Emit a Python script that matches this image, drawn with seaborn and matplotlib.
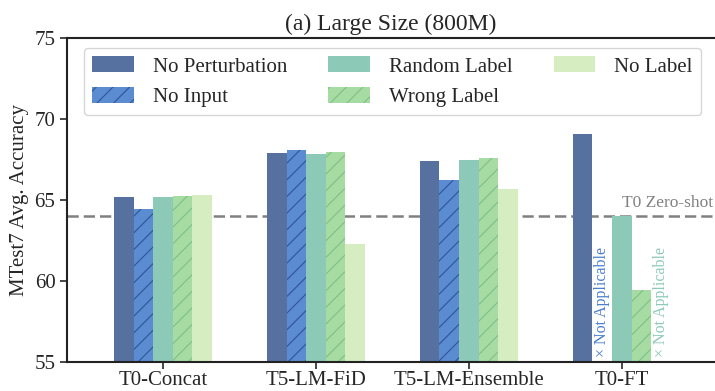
import numpy as np
import pandas as pd
import matplotlib
matplotlib.use("Agg")
import matplotlib.pyplot as plt
from matplotlib.patches import Patch
import seaborn as sns

models = ["T0-Concat", "T5-LM-FiD", "T5-LM-Ensemble", "T0-FT"]
conditions = ["No Perturbation", "No Input", "Random Label", "Wrong Label", "No Label"]
no_perturbation = [65.2, 67.88, 67.39, 69.05]
no_input = [64.43, 68.09, 66.21, np.nan]
random_label = [65.17, 67.82, 67.47, 64.01]
wrong_label = [65.25, 67.94, 67.61, 59.44]
no_label = [65.3, 62.28, 65.66, np.nan]
zero_shot = 64.0
yticks = [55, 60, 65, 70, 75]

colors = ["#5671a0", "#5b8bd0", "#8ccab7", "#a6dba2", "#d6edc2"]
hatch_colors = ["#5671a0", "#2f5596", "#8ccab7", "#7fbf8b", "#d6edc2"]
hatches = ["", "//", "", "//", ""]

series = [no_perturbation, no_input, random_label, wrong_label, no_label]
rows = []
for cond, vals in zip(conditions, series):
    for m, v in zip(models, vals):
        rows.append({"model": m, "condition": cond, "acc": v})
df = pd.DataFrame(rows)

sns.set_theme(style="ticks")
plt.rcParams["font.family"] = ["Liberation Serif", "DejaVu Serif"]
plt.rcParams["hatch.linewidth"] = 0.8

fig = plt.figure(figsize=(7.15, 3.91), dpi=100)
ax = fig.add_axes([0.094, 0.074, 0.906, 0.829])

sns.barplot(data=df, x="model", y="acc", hue="condition", order=models,
            hue_order=conditions, palette=colors, width=0.64, dodge=True,
            errorbar=None, legend=False, ax=ax, linewidth=0, saturation=1)

for cont, h, hc in zip(ax.containers, hatches, hatch_colors):
    for p in cont.patches:
        p.set_hatch(h)
        p.set_edgecolor(hc)
        p.set_linewidth(0)

ax.set_ylim(55, 75)
ax.set_yticks(yticks)
ax.set_xlim(-0.627, 3.61)
ax.axhline(zero_shot, color="#808080", ls=(0, (4.5, 2)), lw=1.8, zorder=0.5)
ax.text(0.997, zero_shot + 0.3, "T0 Zero-shot", transform=ax.get_yaxis_transform(),
        ha="right", va="bottom", color="#808080", fontsize=12.5)

bw = 0.128
ax.text(3 - bw, 55.3, "× Not Applicable", rotation=90, ha="center", va="bottom",
        color="#4a7fcf", fontsize=11.5)
ax.text(3 + 2 * bw, 55.3, "× Not Applicable", rotation=90, ha="center", va="bottom",
        color="#8ccab7", fontsize=11.5)

ax.set_xlabel("")
ax.set_ylabel("MTest7 Avg. Accuracy", fontsize=15)
ax.set_title("(a) Large Size (800M)", fontsize=17, pad=6)
ax.tick_params(axis="both", labelsize=15, length=5, width=1.2)
ax.tick_params(axis="x", pad=1.5)
for s in ["left", "bottom", "top"]:
    ax.spines[s].set_linewidth(1.5)
    ax.spines[s].set_color("#222222")
ax.spines["right"].set_visible(False)

handles = [Patch(facecolor=c, edgecolor=hc, hatch=h, linewidth=0)
           for c, hc, h in zip(colors, hatch_colors, hatches)]
ax.legend(handles, conditions, ncol=3, loc="upper left",
          bbox_to_anchor=(0.026, 0.969, 0.952, 0), mode="expand",
          borderaxespad=0, fontsize=15, handlelength=2.0, handleheight=0.8,
          handletextpad=0.9, frameon=True, fancybox=True, edgecolor="#cccccc")

fig.savefig("out.png", dpi=100)
